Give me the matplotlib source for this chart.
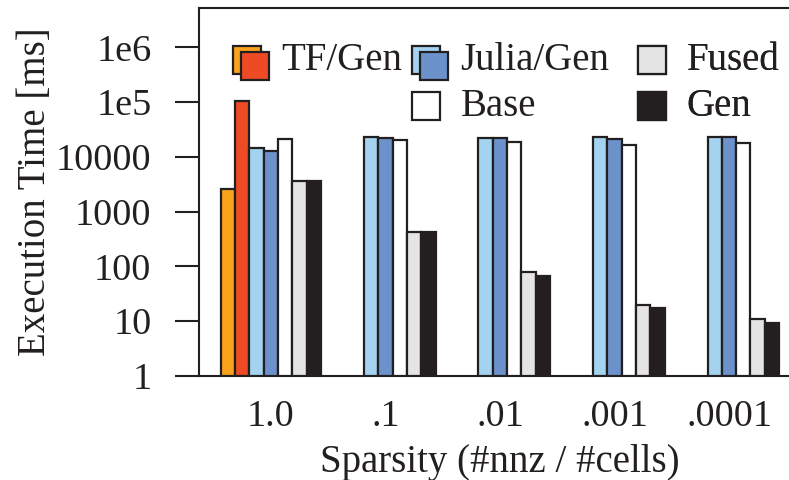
import matplotlib
matplotlib.use("Agg")
import matplotlib.pyplot as plt
import numpy as np
from matplotlib.patches import Rectangle
from matplotlib.legend_handler import HandlerBase

plt.rcParams['font.family'] = ['Liberation Serif', 'DejaVu Serif']

# ---------------- data ----------------
sparsity = ["1.0", ".1", ".01", ".001", ".0001"]
tf_gen_a = [2600, 0, 0, 0, 0]          # orange
tf_gen_b = [105000, 0, 0, 0, 0]        # red
julia_gen_a = [14400, 23400, 22100, 23000, 23000]   # light blue
julia_gen_b = [12600, 22400, 22000, 21500, 22800]   # dark blue
base = [21000, 20500, 18700, 16700, 17700]
fused = [3660, 427, 77, 19, 9.7]
gen = [3600, 415, 66, 16.5, 8.2]
ytick_vals = [1, 10, 100, 1000, 10000, 1e5, 1e6]
ytick_labels = ["1", "10", "100", "1000", "10000", "1e5", "1e6"]

series = [tf_gen_a, tf_gen_b, julia_gen_a, julia_gen_b, base, fused, gen]
colors = ["#F8A31B", "#EE4A24", "#A3D3EF", "#6B92CA", "#FFFFFF", "#E3E4E3", "#231F20"]
edge = "#231F20"

W, H = 789, 480
fig = plt.figure(figsize=(W / 100, H / 100), dpi=100)
left, right, top, bottom = 199.3, 800.6, 8.3, 375.7
ax = fig.add_axes([left / W, 1 - bottom / H, (right - left) / W, (bottom - top) / H])

nslots = 8
for j, (vals, c) in enumerate(zip(series, colors)):
    xs = [g * nslots + j for g, v in enumerate(vals) if v > 0]
    vs = [v for v in vals if v > 0]
    ax.bar(xs, vs, width=1.0, bottom=1, color=c, edgecolor=edge, linewidth=1.6, zorder=3)

ax.set_yscale('log')
ax.set_ylim(1, 10 ** ((bottom - top) / 54.7))
ax.set_xlim(-2, 40)
ax.set_yticks(ytick_vals)
ax.set_yticklabels(ytick_labels)
ax.yaxis.set_minor_locator(matplotlib.ticker.NullLocator())
ax.set_xticks([g * nslots + 3 for g in range(len(sparsity))])
ax.set_xticklabels(sparsity)

FS = 27.5
FL = 28
ax.tick_params(axis='y', direction='out', length=17.5, width=1.5, pad=17, labelsize=FS, colors=edge)
ax.tick_params(axis='x', length=0, pad=17, labelsize=FS, colors=edge)
for s in ax.spines.values():
    s.set_linewidth(1.5)
    s.set_color(edge)

ax.set_xlabel("Sparsity (#nnz / #cells)", fontsize=FL, color=edge, labelpad=7)
ax.set_ylabel("Execution Time [ms]", fontsize=FL, color=edge, labelpad=1.5)


class SquareKey:
    def __init__(self, cols):
        self.cols = cols


class SquaresHandler(HandlerBase):
    def create_artists(self, legend, orig_handle, xdescent, ydescent, width, height, fontsize, trans):
        cols = orig_handle.cols
        side = 0.72 * fontsize
        off_x, off_y = 0.2 * fontsize, 0.16 * fontsize
        arts = []
        y0 = -ydescent - 0.1 * fontsize
        for i, c in enumerate(cols):
            r = Rectangle((-xdescent + i * off_x, y0 - i * off_y), side, side,
                          facecolor=c, edgecolor=edge, linewidth=1.6, transform=trans)
            arts.append(r)
        return arts


h_tf = SquareKey([colors[0], colors[1]])
h_julia = SquareKey([colors[2], colors[3]])
h_fused = SquareKey([colors[5]])
h_base = SquareKey([colors[4]])
h_gen = SquareKey([colors[6]])

legend_cols = [
    ([h_tf], ["TF/Gen"], 233),
    ([h_julia, h_base], ["Julia/Gen", "Base"], 412),
    ([h_fused, h_gen], ["Fused", "Gen"], 638),
]
top_px = 42
for hs, ls, xpx in legend_cols:
    leg = ax.legend(hs, ls, handler_map={SquareKey: SquaresHandler()}, ncol=1,
                    loc='upper left',
                    bbox_to_anchor=((xpx - left) / (right - left), 1 - (top_px - top) / (bottom - top)),
                    frameon=False, fontsize=FL, handlelength=1.0, handleheight=0.7,
                    handletextpad=0.25, labelspacing=0.24, borderpad=0, borderaxespad=0)
    for t in leg.get_texts():
        t.set_color(edge)
    ax.add_artist(leg)

fig.savefig("out.png", dpi=100)
